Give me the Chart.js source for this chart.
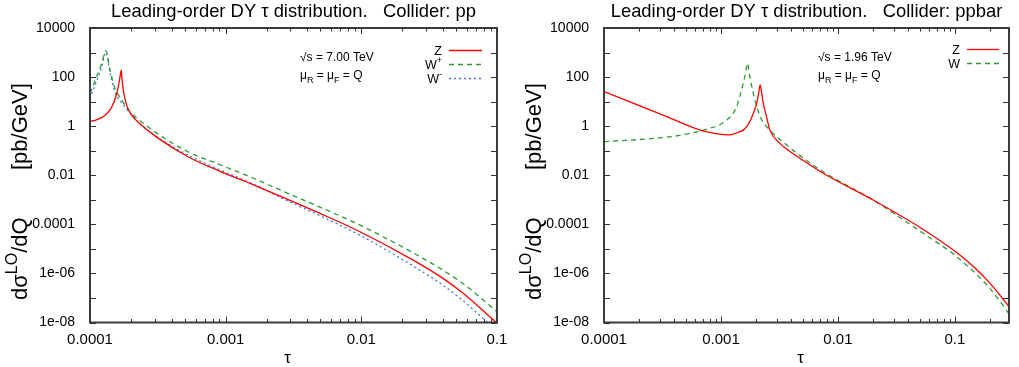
<!DOCTYPE html>
<html>
<head>
<meta charset="utf-8">
<title>Leading-order DY tau distribution</title>
<script src="https://cdn.jsdelivr.net/npm/chart.js@4.4.1/dist/chart.umd.min.js"></script>
<style>
  html, body { margin: 0; padding: 0; background: #fff; }
  #wrap { position: relative; width: 1019px; height: 367px; }
  #wrap canvas { position: absolute; top: 0; }
  #c-pp    { left: 0; }
  #c-ppbar { left: 510px; }
</style>
</head>
<body>
<div id="wrap">
  <canvas id="c-pp" width="510" height="367"></canvas>
  <canvas id="c-ppbar" width="509" height="367"></canvas>
</div>
<script>
'use strict';

/* ─── Données : collisionneur pp (7 TeV) ─────────────────── */
var tauZpp = [1e-4, 1.088e-4, 1.186e-4, 1.30e-4, 1.404e-4, 1.50e-4, 1.573e-4, 1.64e-4, 1.675e-4, 1.698e-4,
              1.72e-4, 1.74e-4, 1.759e-4, 1.862e-4, 2.028e-4, 2.335e-4, 3.12e-4, 5.27e-4, 9.29e-4,
              1.637e-3, 2.57e-3, 5.0e-3, 9.77e-3, 0.0241, 0.04, 0.0563, 0.1];
var dsZpp  = [1.58, 1.74, 2.09, 2.88, 4.57, 9.5, 21.9, 63, 126, 190,
              89, 50, 29.5, 7.2, 2.8, 1.26, 0.35, 0.057, 0.0138,
              3.9e-3, 1.35e-3, 2.75e-4, 5.0e-5, 3.5e-6, 6.3e-7, 1.55e-7, 9.3e-9];

var tauWplus = [1e-4, 1.12e-4, 1.22e-4, 1.31e-4, 1.404e-4, 1.528e-4, 1.713e-4, 1.97e-4, 2.47e-4,
                3.12e-4, 5.27e-4, 9.29e-4, 1.637e-3, 2.57e-3, 5.0e-3, 9.77e-3, 0.0241, 0.04, 0.0563, 0.1];
var dsWplus  = [21, 105, 363, 1200, 195, 35, 11.7, 3.9, 1.32,
                0.51, 0.091, 0.0257, 7.2e-3, 2.4e-3, 4.9e-4, 9.3e-5, 6.9e-6, 1.35e-6, 3.8e-7, 2.75e-8];

var tauWminus = [1e-4, 1.12e-4, 1.22e-4, 1.31e-4, 1.404e-4, 1.528e-4, 1.713e-4, 1.97e-4, 2.39e-4,
                 3.12e-4, 5.27e-4, 9.29e-4, 1.637e-3, 2.57e-3, 5.0e-3, 9.77e-3, 0.0241, 0.04, 0.0563, 0.1];
var dsWminus  = [13.5, 71, 263, 1000, 158, 25, 8.9, 3.5, 1.12,
                 0.37, 0.066, 0.0158, 4.1e-3, 1.2e-3, 2.2e-4, 3.6e-5, 2.0e-6, 3.3e-7, 7.6e-8, 4.5e-9];

/* ─── Données : collisionneur ppbar (1.96 TeV) ───────────── */
var tauZppbar = [1e-4, 3.44e-4, 6.62e-4, 9e-4, 1.19e-3, 1.45e-3, 1.55e-3, 1.7e-3, 1.89e-3, 2.02e-3, 2.10e-3,
                 2.163e-3, 2.23e-3, 2.30e-3, 2.45e-3, 2.62e-3, 3.19e-3, 3.89e-3, 4.73e-3, 7.48e-3,
                 0.02, 0.0536, 0.1035, 0.15, 0.199, 0.29];
var dsZppbar  = [25.7, 2.43, 0.69, 0.5, 0.44, 0.6, 0.69, 1.12, 3.3, 8.5, 21.9,
                 48, 21.9, 8.5, 2.45, 0.69, 0.2, 0.093, 0.049, 0.012,
                 9.8e-4, 6.2e-5, 7.1e-6, 1.6e-6, 4.0e-7, 4.5e-8];

var tauWppbar = [1e-4, 3.44e-4, 5e-4, 7.06e-4, 1.12e-3, 1.36e-3, 1.55e-3, 1.62e-3, 1.683e-3, 1.75e-3,
                 1.89e-3, 2.163e-3, 2.62e-3, 3.65e-3, 4.73e-3, 7.48e-3, 0.02, 0.0536, 0.1035, 0.199, 0.29];
var dsWppbar  = [0.234, 0.355, 0.47, 0.69, 1.78, 6.2, 56, 141, 363, 129,
                 21.9, 2.45, 0.69, 0.17, 0.063, 0.0138, 9.8e-4, 4.3e-5, 4.8e-6, 2.45e-7, 2.3e-8];

/* ─── Axes ───────────────────────────────────────────────── */
var yTickValues = [1e-8, 1e-7, 1e-6, 1e-5, 1e-4, 1e-3, 1e-2, 1e-1, 1, 10, 100, 1000, 1e4];
var yTickLabels = { '-8': '1e-08', '-6': '1e-06', '-4': '0.0001', '-2': '0.01', '0': '1', '2': '100', '4': '10000' };
var xTickValues = [1e-4, 1e-3, 1e-2, 1e-1];
var xTickLabels = { '-4': '0.0001', '-3': '0.001', '-2': '0.01', '-1': '0.1' };

var FONT = "'Liberation Sans', Arial, sans-serif";
var RED = '#ff0000';
var GREEN = '#2f9a35';
var BLUE = '#3f74cc';

function pts(taus, vals) {
  var out = [];
  for (var i = 0; i < taus.length; i++) { out.push({ x: taus[i], y: vals[i] }); }
  return out;
}

function expOf(v) { return String(Math.round(Math.log(v) / Math.LN10)); }

/* Texte avec indices / exposants : parts = [[texte, 'sup'|'sub'|''], ...] */
function drawRich(ctx, parts, x, y, size, align) {
  var small = Math.round(size * 0.72);
  var w = 0, i;
  for (i = 0; i < parts.length; i++) {
    ctx.font = (parts[i][1] ? small : size) + 'px ' + FONT;
    w += ctx.measureText(parts[i][0]).width;
  }
  var cx = align === 'right' ? x - w : x;
  ctx.textAlign = 'left';
  ctx.textBaseline = 'alphabetic';
  for (i = 0; i < parts.length; i++) {
    var kind = parts[i][1];
    ctx.font = (kind ? small : size) + 'px ' + FONT;
    var dy = kind === 'sup' ? -size * 0.45 : (kind === 'sub' ? size * 0.3 : 0);
    ctx.fillText(parts[i][0], cx, y + dy);
    cx += ctx.measureText(parts[i][0]).width;
  }
}

/* ─── Cadre gnuplot, graduations, titres, légende ────────── */
var decorPlugin = {
  id: 'decor',
  afterDraw: function(chart, args, o) {
    var ctx = chart.ctx, a = chart.chartArea;
    var xs = chart.scales.x, ys = chart.scales.y;
    var i, k, v, p;
    ctx.save();
    ctx.strokeStyle = '#333';
    ctx.lineWidth = 1;
    ctx.beginPath();
    for (i = 0; i < yTickValues.length; i++) {
      p = Math.round(ys.getPixelForValue(yTickValues[i])) + 0.5;
      ctx.moveTo(a.left, p);  ctx.lineTo(a.left + 6, p);
      ctx.moveTo(a.right, p); ctx.lineTo(a.right - 6, p);
    }
    for (i = 0; i < xTickValues.length; i++) {
      for (k = 1; k <= 9; k++) {
        v = xTickValues[i] * k;
        if (v > xs.max * 1.0001) { break; }
        p = Math.round(xs.getPixelForValue(v)) + 0.5;
        var len = k === 1 ? 6 : 3.5;
        ctx.moveTo(p, a.bottom); ctx.lineTo(p, a.bottom - len);
        ctx.moveTo(p, a.top);    ctx.lineTo(p, a.top + len);
      }
    }
    ctx.stroke();
    ctx.lineWidth = 2;
    ctx.strokeStyle = '#3a3a3a';
    ctx.strokeRect(a.left, a.top, a.right - a.left, a.bottom - a.top);

    ctx.fillStyle = '#000';
    /* titre */
    ctx.font = '18.4px ' + FONT;
    ctx.textAlign = 'center';
    ctx.textBaseline = 'alphabetic';
    ctx.fillText(o.title, (a.left + a.right) / 2, 17);
    /* titre axe x */
    ctx.font = '17px ' + FONT;
    ctx.fillText('\u03c4', (a.left + a.right) / 2 - 6, 363);
    /* titre axe y (vertical) */
    ctx.save();
    ctx.translate(o.yTitleX, 300);
    ctx.rotate(-Math.PI / 2);
    drawRich(ctx, [['d\u03c3', ''], ['LO', 'sup'], ['/dQ', '']], 0, 0, 22, 'left');
    drawRich(ctx, [['[pb/GeV]', '']], 130, 0, 22, 'left');
    ctx.restore();
    /* annotations */
    drawRich(ctx, [[o.sqrtS, '']], o.noteX, 61, 12, 'left');
    drawRich(ctx, [['\u03bc', ''], ['R', 'sub'], [' = \u03bc', ''], ['F', 'sub'], [' = Q', '']], o.noteX, 79, 12, 'left');
    /* légende */
    var ds = chart.data.datasets;
    for (i = 0; i < ds.length; i++) {
      var ly = o.legendY + i * 14;
      ctx.fillStyle = '#000';
      drawRich(ctx, o.legend[i], o.legendX, ly + 4.5, 12.5, 'right');
      ctx.beginPath();
      ctx.strokeStyle = ds[i].borderColor;
      ctx.lineWidth = ds[i].borderWidth;
      ctx.setLineDash(ds[i].borderDash || []);
      ctx.moveTo(o.lineX0, ly + 0.5);
      ctx.lineTo(o.lineX1, ly + 0.5);
      ctx.stroke();
      ctx.setLineDash([]);
    }
    ctx.restore();
  }
};

function makeDataset(data, color, dash) {
  return {
    data: data,
    borderColor: color,
    borderWidth: 1.3,
    borderDash: dash,
    pointRadius: 0,
    fill: false,
    cubicInterpolationMode: 'monotone'
  };
}

function makeChart(id, datasets, xMax, yWidth, padRight, decor) {
  return new Chart(document.getElementById(id), {
    type: 'line',
    data: { datasets: datasets },
    options: {
      responsive: false,
      animation: false,
      layout: { padding: { top: 28, right: padRight, left: 0, bottom: 0 } },
      scales: {
        x: {
          type: 'logarithmic',
          min: 1e-4,
          max: xMax,
          grid: { display: false },
          border: { display: false },
          afterBuildTicks: function(s) {
            s.ticks = xTickValues.map(function(v) { return { value: v }; });
          },
          afterFit: function(s) { s.height = 44.5; },
          ticks: {
            autoSkip: false, maxRotation: 0, padding: 0, color: '#000',
            font: { family: FONT, size: 15 },
            callback: function(v) { return xTickLabels[expOf(v)] || ''; }
          }
        },
        y: {
          type: 'logarithmic',
          min: 1e-8,
          max: 1e4,
          grid: { display: false },
          border: { display: false },
          afterBuildTicks: function(s) {
            s.ticks = yTickValues.map(function(v) { return { value: v }; });
          },
          afterFit: function(s) { s.width = yWidth; },
          ticks: {
            autoSkip: false, padding: 7, color: '#000',
            font: { family: FONT, size: 14 },
            callback: function(v) { return yTickLabels[expOf(v)] || ''; }
          }
        }
      },
      plugins: {
        legend: { display: false },
        tooltip: { enabled: false },
        decor: decor
      }
    },
    plugins: [decorPlugin]
  });
}

/* ─── Init ────────────────────────────────────────────────── */
makeChart('c-pp', [
  makeDataset(pts(tauZpp, dsZpp), RED, []),
  makeDataset(pts(tauWplus, dsWplus), GREEN, [5, 4]),
  makeDataset(pts(tauWminus, dsWminus), BLUE, [2, 3])
], 0.1, 90, 13, {
  title: 'Leading-order DY \u03c4 distribution.   Collider: pp',
  sqrtS: '\u221as = 7.00 TeV',
  noteX: 300,
  yTitleX: 27,
  legendX: 442, lineX0: 449, lineX1: 482, legendY: 50,
  legend: [[['Z', '']], [['W', ''], ['+', 'sup']], [['W', ''], ['-', 'sup']]]
});

makeChart('c-ppbar', [
  makeDataset(pts(tauZppbar, dsZppbar), RED, []),
  makeDataset(pts(tauWppbar, dsWppbar), GREEN, [5, 4])
], 0.29, 94, 10, {
  title: 'Leading-order DY \u03c4 distribution.   Collider: ppbar',
  sqrtS: '\u221as = 1.96 TeV',
  noteX: 308,
  yTitleX: 31,
  legendX: 450, lineX0: 457, lineX1: 489, legendY: 49,
  legend: [[['Z', '']], [['W', '']]]
});
</script>
</body>
</html>
